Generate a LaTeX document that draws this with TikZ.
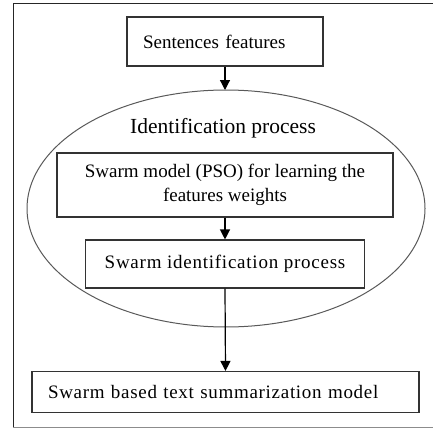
\documentclass[tikz,border=0pt]{standalone}
\usepackage{fontspec}
\setmainfont{Liberation Serif}
\usetikzlibrary{arrows.meta}
\begin{document}
\begin{tikzpicture}[x=1pt,y=-1pt,
  boxtxt/.style={draw=black!80, line width=1.1pt, font=\fontsize{19}{24}\selectfont, inner sep=0pt},
  arr/.style={line width=1.2pt, -{Triangle[width=10pt,length=10pt]}},
  frameline/.style={line width=1pt}]
\useasboundingbox (0,0) rectangle (433,428);
% outer frame
\draw[frameline, black!85] (433,4) -- (13,4) -- (13,427);
\draw[frameline, black!45] (13,427) -- (433,427);
% ellipse
\draw[black!65, line width=1pt] plot[domain=0:360, samples=240] ({226+199*cos(\x)},{208.5+118.5*sin(\x)}) -- cycle;
\coordinate (etop) at (225,90);
\node[font=\fontsize{21.5}{26}\selectfont, inner sep=0pt] (ttl) at (223,128) {Identification process};
% boxes
\node[boxtxt, minimum width=196pt, minimum height=49pt, text width=180pt, align=left, inner xsep=0pt] (s1) at (225,41.5) {\hspace*{8pt}Sentences features};
\node[boxtxt, minimum width=336pt, minimum height=64pt, align=center] (s2) at (225,185) {Swarm model (PSO) for learning the\\features weights};
\node[boxtxt, minimum width=279pt, minimum height=48pt] (s3) at (225,264) {\addfontfeature{LetterSpace=4}Swarm identification process};
\node[boxtxt, minimum width=387pt, minimum height=41pt, text width=371pt, align=left] (s4) at (225.5,392) {\hspace*{8pt}\addfontfeature{LetterSpace=3.7}Swarm based text summarization model};
% arrows
\draw[arr] (s1.south) -- (etop);
\draw[arr] (s2.south) -- (s3.north);
\draw[arr] (s3.south) -- (s4.north);
\end{tikzpicture}
\end{document}
